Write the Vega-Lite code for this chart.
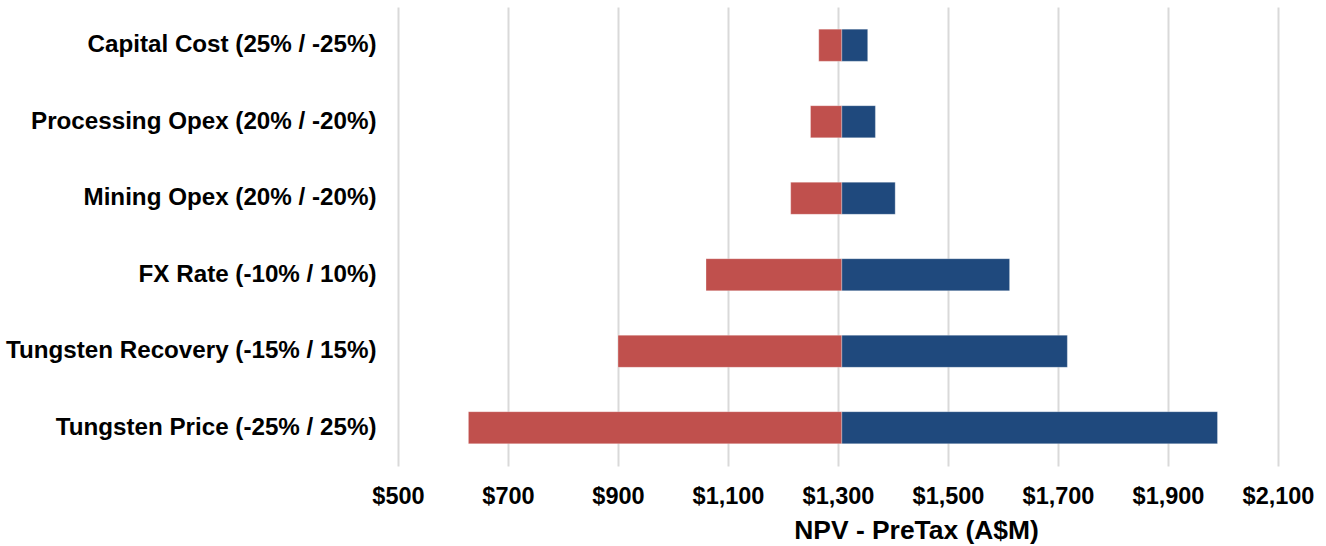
{
  "$schema": "https://vega.github.io/schema/vega-lite/v6.json",
  "autosize": "none",
  "width": 880,
  "height": 459,
  "padding": {"left": 398, "top": 7, "right": 48, "bottom": 80},
  "background": "white",
  "config": {
    "view": {"stroke": null},
    "font": "Liberation Sans"
  },
  "data": {
    "values": [
      {"parameter": "Capital Cost (25% / -25%)", "case": "Low", "base": 1307, "value": 1265},
      {"parameter": "Capital Cost (25% / -25%)", "case": "High", "base": 1307, "value": 1354},
      {"parameter": "Processing Opex (20% / -20%)", "case": "Low", "base": 1307, "value": 1250},
      {"parameter": "Processing Opex (20% / -20%)", "case": "High", "base": 1307, "value": 1368},
      {"parameter": "Mining Opex (20% / -20%)", "case": "Low", "base": 1307, "value": 1214},
      {"parameter": "Mining Opex (20% / -20%)", "case": "High", "base": 1307, "value": 1404},
      {"parameter": "FX Rate (-10% / 10%)", "case": "Low", "base": 1307, "value": 1060},
      {"parameter": "FX Rate (-10% / 10%)", "case": "High", "base": 1307, "value": 1612},
      {"parameter": "Tungsten Recovery (-15% / 15%)", "case": "Low", "base": 1307, "value": 900},
      {"parameter": "Tungsten Recovery (-15% / 15%)", "case": "High", "base": 1307, "value": 1717},
      {"parameter": "Tungsten Price (-25% / 25%)", "case": "Low", "base": 1307, "value": 628},
      {"parameter": "Tungsten Price (-25% / 25%)", "case": "High", "base": 1307, "value": 1990}
    ]
  },
  "mark": {"type": "bar", "stroke": "white", "strokeWidth": 0.6, "strokeOpacity": 0.5},
  "encoding": {
    "y": {
      "field": "parameter",
      "type": "nominal",
      "sort": [
        "Capital Cost (25% / -25%)",
        "Processing Opex (20% / -20%)",
        "Mining Opex (20% / -20%)",
        "FX Rate (-10% / 10%)",
        "Tungsten Recovery (-15% / 15%)",
        "Tungsten Price (-25% / 25%)"
      ],
      "scale": {"paddingInner": 0.58, "paddingOuter": 0.29},
      "axis": {
        "title": null,
        "domain": false,
        "ticks": false,
        "grid": false,
        "labelPadding": 22,
        "labelFont": "Liberation Sans",
        "labelFontWeight": "bold",
        "labelFontSize": 24.2,
        "labelColor": "#000000",
        "labelLimit": 500
      }
    },
    "x": {
      "field": "base",
      "type": "quantitative",
      "scale": {"domain": [500, 2100], "nice": false, "zero": false},
      "axis": {
        "title": "NPV - PreTax (A$M)",
        "values": [500, 700, 900, 1100, 1300, 1500, 1700, 1900, 2100],
        "format": "$,.0f",
        "domain": false,
        "ticks": false,
        "grid": true,
        "gridColor": "#d9d9d9",
        "gridWidth": 2,
        "labelFont": "Liberation Sans",
        "labelFontWeight": "bold",
        "labelFontSize": 23.5,
        "labelColor": "#000000",
        "labelBaseline": "alphabetic",
        "labelPadding": 37,
        "labelFlush": false,
        "titleFont": "Liberation Sans",
        "titleFontWeight": "bold",
        "titleFontSize": 26.4,
        "titleColor": "#000000",
        "titleBaseline": "alphabetic",
        "titleAnchor": "start",
        "titleAlign": "center",
        "titleX": 518,
        "titleY": 72
      }
    },
    "x2": {"field": "value"},
    "color": {
      "field": "case",
      "type": "nominal",
      "scale": {"domain": ["Low", "High"], "range": ["#C0504D", "#1F497D"]},
      "legend": null
    }
  }
}
